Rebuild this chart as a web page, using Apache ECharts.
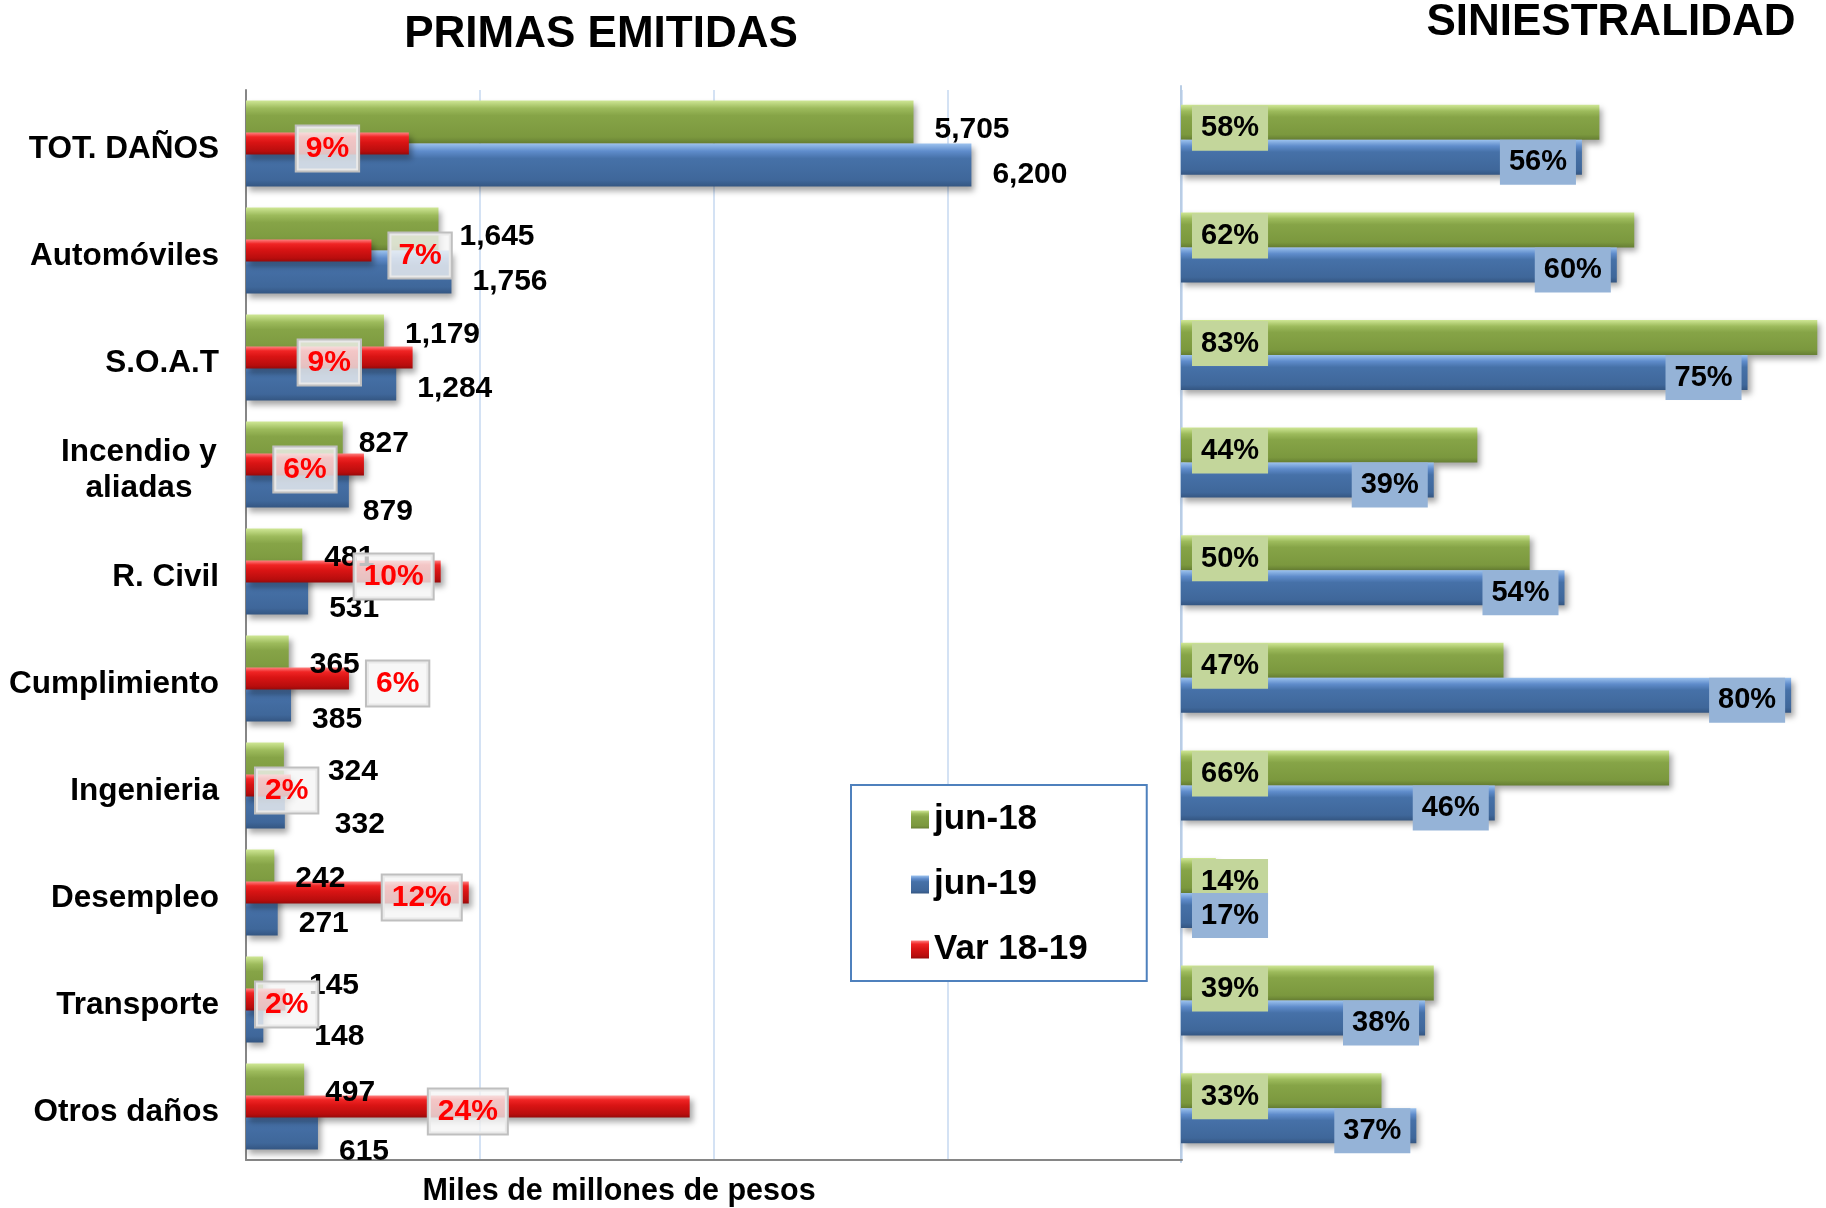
<!DOCTYPE html>
<html>
<head>
<meta charset="utf-8">
<script src="https://cdn.jsdelivr.net/npm/echarts@6/dist/echarts.min.js"></script>
<style>
html,body{margin:0;padding:0;background:#fff;}
#chart{width:1826px;height:1208px;}
</style>
</head>
<body>
<div id="chart"></div>
<script>
// ---------- DATA ----------
const categories = ['TOT. DAÑOS','Automóviles','S.O.A.T','Incendio y\naliadas','R. Civil','Cumplimiento','Ingenieria','Desempleo','Transporte','Otros daños'];
const primas18 = [5705,1645,1179,827,481,365,324,242,145,497];
const primas19 = [6200,1756,1284,879,531,385,332,271,148,615];
const var1819 = [8.7,6.7,8.9,6.3,10.4,5.5,2.4,11.9,2.1,23.7];
const sinies18 = [58,62,83,44,50,47,66,14,39,33];
const sinies19 = [56,60,75,39,54,80,46,17,38,37];
const seriesNames = ['jun-18','jun-19','Var 18-19'];
const titleLeft = 'PRIMAS EMITIDAS';
const titleRight = 'SINIESTRALIDAD';
const axisTitle = 'Miles de millones de pesos';

// ---------- STYLE ----------
const FONT = "'Liberation Sans', Arial, sans-serif";
const chart = echarts.init(document.getElementById('chart'));
function grad(stops){ return new echarts.graphic.LinearGradient(0,0,0,1, stops.map(s=>({offset:s[0],color:s[1]}))); }
const gGreen = grad([[0,'#cfe795'],[0.18,'#9dbb5c'],[0.35,'#86a447'],[0.85,'#7b983e'],[1,'#667f33']]);
const gBlue  = grad([[0,'#9cc2ee'],[0.18,'#5f8ccb'],[0.35,'#4671a8'],[0.85,'#3f679a'],[1,'#345682']]);
const gRed   = grad([[0,'#ff8080'],[0.2,'#f02424'],[0.45,'#d91414'],[0.85,'#b80d0d'],[1,'#960a0a']]);
const shadow = {shadowColor:'rgba(0,0,0,0.35)', shadowBlur:6, shadowOffsetX:3, shadowOffsetY:4};

// label placement tweaks (styling only)
const varPlace = ['inside','right','inside','inside','insideRight','right','insideLeft','insideRight','insideLeft','inside'];
const varDist  = {inside:0, right:18, insideRight:8, insideLeft:10};
const labelDist = [{6:44, 8:46, 3:16, 4:22}, {6:50, 8:51, 3:14}];
const labelDy   = [{2:-1, 3:1}, {3:26, 4:16, 5:20, 6:18, 8:16, 9:24}];
const baseDy = [8, 10];

function valueLabel(dy){
  return {show:true, position:'right', distance:21, offset:[0,dy], color:'#000', fontSize:30, fontWeight:'bold', fontFamily:FONT,
    formatter:p=>p.value.toLocaleString('en-US')};
}
function tweak(arr, k){
  return arr.map((v,i)=>{
    const d = labelDist[k][i], dy = labelDy[k][i];
    if (d === undefined && dy === undefined) return v;
    const lab = {};
    if (d !== undefined) lab.distance = d;
    if (dy !== undefined) lab.offset = [0, dy];
    return {value:v, label:lab};
  });
}

const option = {
  animation:false,
  textStyle:{fontFamily:FONT},
  graphic:[
    {type:'text', x:601, y:35, style:{text:titleLeft, font:"bold 44px "+FONT, fill:'#000', align:'center', verticalAlign:'middle'}},
    {type:'text', x:1611, y:23, style:{text:titleRight, font:"bold 44px "+FONT, fill:'#000', align:'center', verticalAlign:'middle'}},
    {type:'text', x:619, y:1192, style:{text:axisTitle, font:"bold 30.5px "+FONT, fill:'#000', align:'center', verticalAlign:'middle'}}
  ],
  legend:{
    data:seriesNames, orient:'vertical', left:851, top:785,
    padding:[17,59,14,60], itemGap:30, itemWidth:18, itemHeight:18,
    borderColor:'#4f81bd', borderWidth:2, backgroundColor:'#fff',
    selectedMode:false, icon:'rect',
    textStyle:{fontSize:35, fontWeight:'bold', color:'#000', fontFamily:FONT}
  },
  grid:[
    {left:246, width:936, top:90, height:1070},
    {left:1181, right:0, top:86, height:1076}
  ],
  xAxis:[
    {type:'value', gridIndex:0, min:0, max:8000, interval:2000,
      axisLine:{show:true, lineStyle:{color:'#868686', width:2}}, axisTick:{show:false}, axisLabel:{show:false},
      splitLine:{show:true, lineStyle:{color:'#c6d9f1', width:1.5}}},
    {type:'value', gridIndex:0, min:0, max:50, show:false, splitLine:{show:false}},
    {type:'value', gridIndex:1, min:10, max:84, startValue:10, show:false, splitLine:{show:false}}
  ],
  yAxis:[
    {type:'category', gridIndex:0, data:categories, inverse:true,
      axisLine:{show:true, lineStyle:{color:'#868686', width:2}}, axisTick:{show:false},
      axisLabel:{margin:27, color:'#000', fontSize:31.5, fontWeight:'bold', fontFamily:FONT, padding:[12,0,0,0],
        formatter:v=> v.indexOf('\n')>=0 ? v.split('\n').map(s=>'{m|'+s+'}').join('\n') : v,
        rich:{m:{width:160, align:'center', fontSize:31.5, fontWeight:'bold', lineHeight:36, color:'#000', fontFamily:FONT}}}},
    {type:'category', gridIndex:0, data:categories, inverse:true, show:false},
    {type:'category', gridIndex:1, data:categories, inverse:true,
      axisLine:{show:true, lineStyle:{color:'#b9cde5', width:2}}, axisTick:{show:false}, axisLabel:{show:false}}
  ],
  series:[
    {name:seriesNames[0], type:'bar', xAxisIndex:0, yAxisIndex:0, data:tweak(primas18,0), barWidth:43, barGap:'0%',
      itemStyle:Object.assign({color:gGreen}, shadow), label:valueLabel(baseDy[0]), z:2},
    {name:seriesNames[1], type:'bar', xAxisIndex:0, yAxisIndex:0, data:tweak(primas19,1), barWidth:43, barGap:'0%',
      itemStyle:Object.assign({color:gBlue}, shadow), label:valueLabel(baseDy[1]), z:2},
    {name:seriesNames[2], type:'bar', xAxisIndex:1, yAxisIndex:1, barWidth:22, z:2,
      itemStyle:Object.assign({color:gRed}, shadow),
      data:var1819.map((v,i)=>({value:v, label:{position:varPlace[i], distance:varDist[varPlace[i]]}})),
      label:{show:true, color:'#ff0000', fontSize:30, fontWeight:'bold', fontFamily:FONT, offset:[0,5],
        backgroundColor:'rgba(245,245,245,0.78)', borderColor:'#bfbfbf', borderWidth:2, padding:[7,9],
        formatter:p=>Math.round(p.value)+'%'}},
    {name:seriesNames[0], type:'bar', xAxisIndex:2, yAxisIndex:2, data:sinies18, barWidth:35, barGap:'0%',
      itemStyle:Object.assign({color:gGreen}, shadow),
      label:{show:true, position:'insideLeft', distance:11, offset:[0,6], color:'#000', fontSize:29, fontWeight:'bold', fontFamily:FONT,
        backgroundColor:'#c3d69b', padding:[8,9], formatter:p=>p.value+'%'}},
    {name:seriesNames[1], type:'bar', xAxisIndex:2, yAxisIndex:2, barWidth:35, barGap:'0%',
      data:sinies19.map(v=> v < 25 ? {value:v, label:{position:'insideLeft', distance:11}} : v),
      itemStyle:Object.assign({color:gBlue}, shadow),
      label:{show:true, position:'insideRight', distance:6, offset:[0,5], color:'#000', fontSize:29, fontWeight:'bold', fontFamily:FONT,
        backgroundColor:'#95b3d7', padding:[8,9], formatter:p=>p.value+'%'}}
  ]
};
chart.setOption(option);
</script>
</body>
</html>
